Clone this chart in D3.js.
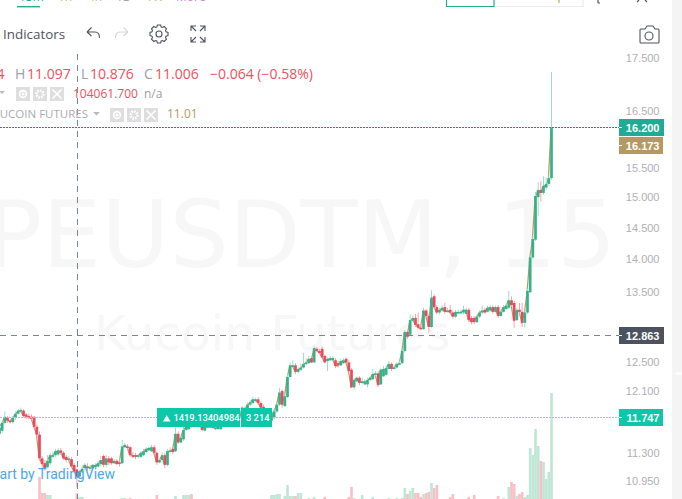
<!DOCTYPE html>
<html>
<head>
<meta charset="utf-8">
<script src="https://cdn.jsdelivr.net/npm/d3@7/dist/d3.min.js"></script>
<style>
html,body{margin:0;padding:0;background:#fff;overflow:hidden}
svg{display:block}
</style>
</head>
<body>
<svg id="chart" width="682" height="499"></svg>
<script>
// Price series: one entry per 15 minute bar
const opens = [
11.54,11.58,11.68,11.75,11.71,11.69,11.75,11.80,11.84,11.84,
11.79,11.77,11.76,11.76,11.63,11.53,11.23,11.17,11.12,11.17,
11.25,11.27,11.28,11.33,11.30,11.25,11.21,11.22,11.15,11.094,
11.006,11.07,11.11,11.13,11.11,11.11,11.12,11.13,11.16,11.26,
11.15,11.23,11.23,11.17,11.20,11.18,11.17,11.37,11.38,11.37,
11.27,11.27,11.25,11.25,11.27,11.31,11.33,11.32,11.37,11.30,
11.18,11.21,11.27,11.15,11.31,11.35,11.32,11.54,11.43,11.47,
11.59,11.60,11.66,11.63,11.66,11.68,11.71,11.58,11.63,11.63,
11.66,11.60,11.60,11.60,11.64,11.67,11.71,11.69,11.71,11.75,
11.76,11.88,11.83,11.86,11.92,11.94,11.97,11.99,11.94,11.89,
11.80,11.80,11.71,11.75,11.83,11.92,12.10,11.90,12.02,12.29,
12.44,12.45,12.36,12.39,12.42,12.47,12.48,12.55,12.49,12.68,
12.65,12.68,12.58,12.51,12.52,12.52,12.52,12.48,12.45,12.48,
12.54,12.49,12.39,12.15,12.23,12.28,12.21,12.19,12.19,12.25,
12.26,12.32,12.34,12.19,12.30,12.32,12.40,12.47,12.41,12.42,
12.47,12.48,12.65,12.92,12.88,13.08,13.12,13.03,12.98,12.96,
13.23,13.15,12.99,13.44,13.28,13.20,13.23,13.28,13.21,13.24,
13.20,13.14,13.20,13.20,13.20,13.18,13.24,13.12,13.12,13.06,
13.14,13.20,13.24,13.21,13.23,13.28,13.21,13.28,13.15,13.21,
13.25,13.27,13.38,13.34,13.09,13.24,13.21,13.05,13.20,13.50,
14.03,14.31,15.00,15.12,15.07,15.16,15.22,15.32];
const highs = [
11.64,11.71,11.83,11.77,11.73,11.77,11.83,11.86,11.88,11.86,
11.81,11.80,11.79,11.77,11.66,11.57,11.26,11.21,11.27,11.30,
11.31,11.35,11.36,11.36,11.32,11.27,11.26,11.25,11.17,11.097,
11.09,11.15,11.17,11.17,11.15,11.16,11.17,11.20,11.26,11.28,
11.27,11.26,11.25,11.22,11.22,11.22,11.46,11.43,11.41,11.38,
11.31,11.30,11.28,11.32,11.35,11.37,11.38,11.40,11.40,11.32,
11.23,11.31,11.30,11.35,11.37,11.37,11.62,11.57,11.51,11.63,
11.67,11.67,11.68,11.69,11.72,11.73,11.73,11.66,11.67,11.67,
11.68,11.64,11.66,11.68,11.73,11.73,11.73,11.75,11.77,11.80,
11.84,11.90,11.89,11.95,11.98,12.02,12.01,12.02,11.97,11.92,
11.84,11.85,11.83,11.85,11.94,12.14,12.12,12.06,12.32,12.49,
12.52,12.48,12.42,12.47,12.62,12.55,12.58,12.58,12.72,12.71,
12.68,12.71,12.60,12.56,12.58,12.58,12.55,12.51,12.54,12.55,
12.56,12.52,12.41,12.28,12.30,12.30,12.28,12.26,12.28,12.30,
12.40,12.37,12.37,12.41,12.44,12.45,12.51,12.49,12.45,12.49,
12.51,12.68,12.95,12.95,13.17,13.15,13.18,13.20,13.02,13.27,
13.25,13.18,13.53,13.47,13.31,13.27,13.31,13.34,13.27,13.31,
13.23,13.24,13.24,13.24,13.30,13.27,13.27,13.15,13.15,13.17,
13.23,13.30,13.27,13.30,13.31,13.31,13.30,13.31,13.24,13.31,
13.34,13.52,13.44,13.37,13.27,13.34,13.34,13.23,13.55,14.08,
14.37,15.09,15.25,15.27,15.35,15.33,15.37,17.23];
const lows = [
11.51,11.55,11.66,11.68,11.67,11.67,11.72,11.79,11.83,11.75,
11.73,11.73,11.72,11.59,11.46,11.20,11.11,11.08,11.11,11.15,
11.23,11.25,11.26,11.27,11.21,11.18,11.18,11.11,11.05,10.876,
11.00,11.06,11.08,11.08,11.08,11.10,11.11,11.12,11.13,11.12,
11.12,11.15,11.15,11.16,11.15,11.13,11.16,11.36,11.33,11.25,
11.23,11.22,11.23,11.23,11.26,11.30,11.32,11.31,11.27,11.15,
11.17,11.18,11.11,11.13,11.30,11.28,11.31,11.41,11.42,11.45,
11.58,11.59,11.62,11.62,11.64,11.67,11.57,11.57,11.62,11.62,
11.60,11.59,11.59,11.59,11.63,11.66,11.68,11.68,11.69,11.73,
11.75,11.81,11.81,11.85,11.90,11.93,11.95,11.92,11.85,11.77,
11.79,11.79,11.69,11.73,11.81,11.90,11.88,11.89,12.01,12.28,
12.42,12.33,12.34,12.37,12.41,12.45,12.47,12.48,12.48,12.63,
12.60,12.55,12.48,12.37,12.51,12.51,12.41,12.42,12.44,12.47,
12.47,12.36,12.14,12.12,12.22,12.18,12.19,12.18,12.15,12.23,
12.25,12.30,12.15,12.18,12.29,12.30,12.39,12.37,12.40,12.41,
12.45,12.47,12.63,12.82,12.86,13.06,12.99,12.96,12.95,12.95,
13.12,12.91,12.98,13.25,13.17,13.17,13.21,13.18,13.20,13.17,
13.11,13.12,13.18,13.18,13.17,13.17,13.06,13.03,13.03,13.05,
13.12,13.18,13.18,13.20,13.21,13.18,13.20,13.12,13.14,13.20,
13.24,13.25,13.28,12.98,13.08,13.18,12.99,12.98,13.18,13.49,
14.01,14.29,14.69,14.93,15.04,15.12,15.19,15.29];
const closes = [
11.62,11.68,11.76,11.71,11.69,11.75,11.80,11.84,11.85,11.77,
11.76,11.76,11.75,11.63,11.53,11.23,11.16,11.11,11.20,11.27,
11.27,11.32,11.33,11.30,11.23,11.21,11.23,11.13,11.07,11.006,
11.07,11.10,11.15,11.11,11.12,11.15,11.15,11.17,11.21,11.15,
11.23,11.18,11.17,11.20,11.16,11.16,11.38,11.40,11.36,11.27,
11.26,11.25,11.27,11.30,11.32,11.35,11.36,11.37,11.30,11.18,
11.21,11.27,11.15,11.32,11.33,11.31,11.54,11.43,11.49,11.59,
11.63,11.63,11.63,11.67,11.69,11.71,11.59,11.63,11.64,11.64,
11.62,11.62,11.63,11.66,11.71,11.71,11.69,11.72,11.75,11.77,
11.81,11.83,11.86,11.92,11.95,11.99,11.99,11.94,11.88,11.80,
11.81,11.83,11.80,11.83,11.92,12.08,11.92,12.03,12.29,12.45,
12.45,12.36,12.40,12.42,12.47,12.49,12.54,12.49,12.69,12.65,
12.62,12.56,12.49,12.54,12.55,12.55,12.44,12.45,12.51,12.52,
12.49,12.37,12.15,12.25,12.28,12.21,12.23,12.23,12.25,12.28,
12.33,12.34,12.18,12.39,12.40,12.41,12.47,12.40,12.42,12.47,
12.48,12.65,12.92,12.85,13.09,13.12,13.02,12.98,12.96,13.23,
13.15,12.99,13.42,13.28,13.20,13.24,13.27,13.21,13.23,13.20,
13.14,13.21,13.21,13.21,13.24,13.24,13.09,13.06,13.06,13.14,
13.20,13.23,13.20,13.27,13.28,13.21,13.28,13.15,13.21,13.28,
13.30,13.38,13.31,13.08,13.24,13.21,13.05,13.20,13.52,14.03,
14.32,15.02,15.12,15.07,15.19,15.22,15.32,16.200];
// Volume per bar, in thousands of contracts
const volumes = [
15,20,12,18,14,10,16,22,25,13,
11,9,14,18,24,312,104,104,78,78,
20,14,16,12,18,11,15,21,24,104.0617,
52,52,20,12,9,15,18,11,14,22,
17,13,10,16,12,9,39,39,18,39,
20,12,14,11,16,18,13,10,24,78,
16,12,22,24,18,11,65,20,13,78,
78,78,91,15,12,21,16,9,18,14,
20,16,11,23,13,17,10,19,14,22,
12,15,24,18,10,16,13,21,11,17,
14,20,78,78,91,91,12,65,208,65,
65,65,104,104,22,16,39,14,52,18,
12,20,52,15,11,23,17,9,19,14,
21,52,182,39,16,12,78,24,13,18,
52,17,10,22,15,12,39,20,14,39,
18,39,169,91,130,169,104,104,52,91,
104,117,234,169,208,14,22,11,17,52,
91,13,20,16,10,24,52,18,78,12,
15,21,13,19,23,10,17,65,14,39,
20,182,247,221,65,91,117,52,78,689,
598,936,715,520,507,286,377,1404];
// Comparison symbol drawn as a line behind the candles
const kucoinCloses = [
11.63,11.67,11.75,11.72,11.70,11.74,11.79,11.83,11.84,11.78,
11.77,11.75,11.74,11.64,11.54,11.25,11.17,11.12,11.19,11.26,
11.26,11.31,11.32,11.31,11.24,11.22,11.22,11.14,11.08,11.01,
11.06,11.09,11.14,11.12,11.12,11.14,11.14,11.16,11.20,11.16,
11.22,11.19,11.18,11.19,11.17,11.17,11.36,11.39,11.37,11.28,
11.27,11.26,11.26,11.29,11.31,11.34,11.35,11.36,11.31,11.19,
11.20,11.26,11.16,11.31,11.32,11.32,11.52,11.44,11.48,11.58,
11.62,11.62,11.64,11.66,11.68,11.70,11.60,11.62,11.63,11.63,
11.63,11.61,11.62,11.65,11.70,11.70,11.70,11.71,11.74,11.76,
11.80,11.84,11.85,11.91,11.94,11.98,11.98,11.95,11.89,11.81,
11.80,11.82,11.79,11.82,11.91,12.07,11.93,12.02,12.27,12.44,
12.44,12.37,12.39,12.41,12.46,12.48,12.53,12.50,12.67,12.66,
12.63,12.57,12.50,12.53,12.54,12.54,12.45,12.44,12.50,12.51,
12.50,12.38,12.16,12.24,12.27,12.22,12.22,12.22,12.24,12.27,
12.32,12.33,12.19,12.38,12.39,12.40,12.46,12.41,12.41,12.46,
12.47,12.63,12.90,12.86,13.07,13.11,13.03,12.99,12.97,13.21,
13.16,13.00,13.40,13.29,13.21,13.23,13.26,13.22,13.22,13.21,
13.15,13.20,13.20,13.20,13.23,13.23,13.10,13.07,13.07,13.13,
13.19,13.22,13.21,13.26,13.27,13.22,13.27,13.16,13.20,13.27,
13.29,13.37,13.32,13.09,13.23,13.22,13.06,13.19,13.50,14.01,
14.30,14.99,15.10,15.08,15.17,15.20,15.30,16.173];
const priceTicks = [17.5,16.5,15.5,15,14.5,14,13.5,12.5,12.1,11.3,10.95];
// Values pinned on the price scale
const lastPrice = 16.2, lastKucoin = 16.173, cursorPrice = 12.863, orderPrice = 11.747;
const orderLabel = "1419.13404984", orderQty = "3 214";

const UP = "#36b28a", DOWN = "#ec4a5c", UP_WICK = "#a3dcc6", DOWN_WICK = "#f5a5ae";
const VOL_UP = "#c0e6d5", VOL_DOWN = "#f8c1c5", TAN = "#b49a62";
const uiFont = "'Open Sans', sans-serif", axisFont = "'Liberation Sans', Arial, sans-serif";

const svg = d3.select("#chart");
const x = d3.scaleLinear().domain([0, closes.length - 1]).range([-0.5, 551.5]);
const y = d3.scaleLog().domain([10.95, 17.5]).range([481.2, 58]);
const yVol = d3.scaleLinear().domain([0, d3.max(volumes)]).range([501, 393]);
const bars = d3.range(closes.length);
const snapped = v => Math.floor(v) + 0.5;

// Symbol watermark
const wm = svg.append("g").attr("fill", "#f7f7f7").attr("font-family", "'DejaVu Sans', sans-serif");
wm.append("text").attr("x", 616).attr("y", 267).attr("text-anchor", "end")
  .attr("font-size", 93.3).text("APEUSDTM, 15");
wm.append("text").attr("x", 94).attr("y", 350).attr("font-size", 48.6).text("Kucoin Futures");

// Volume pane, drawn beneath the price candles
svg.append("g").selectAll("rect").data(bars).join("rect")
  .attr("x", i => x(i) - 1.33).attr("width", 2.67)
  .attr("y", i => yVol(volumes[i])).attr("height", i => 501 - yVol(volumes[i]))
  .attr("fill", i => closes[i] >= opens[i] ? VOL_UP : VOL_DOWN);

// Comparison line
svg.append("path").datum(kucoinCloses)
  .attr("fill", "none").attr("stroke", TAN).attr("stroke-width", 1.2)
  .attr("d", d3.line().x((d, i) => x(i) - 0.5).y(d => y(d)));

// Candles
const candles = svg.append("g");
candles.selectAll("line").data(bars).join("line")
  .attr("x1", i => x(i)).attr("x2", i => x(i))
  .attr("y1", i => y(highs[i])).attr("y2", i => y(lows[i]))
  .attr("stroke", i => closes[i] >= opens[i] ? UP_WICK : DOWN_WICK).attr("stroke-width", 1);
candles.selectAll("rect").data(bars).join("rect")
  .attr("x", i => x(i) - 1.35).attr("width", 2.7)
  .attr("y", i => Math.min(y(opens[i]), y(closes[i])))
  .attr("height", i => Math.max(1.6, Math.abs(y(opens[i]) - y(closes[i]))))
  .attr("fill", i => closes[i] >= opens[i] ? UP : DOWN);

// Horizontal price lines
const hline = (price, stroke, dash) => svg.append("line")
  .attr("x1", 0).attr("x2", 619).attr("y1", snapped(y(price))).attr("y2", snapped(y(price)))
  .attr("stroke", stroke).attr("stroke-dasharray", dash);
hline(lastPrice, "#1d8f7c", "2 1");
hline(orderPrice, "#7fdcca", "2 1");
hline(cursorPrice, "#758696", "6 5");

// Crosshair vertical
svg.append("line").attr("x1", 77.5).attr("x2", 77.5).attr("y1", 54).attr("y2", 499)
  .attr("stroke", "#758696").attr("stroke-dasharray", "6 5");

// Order label on the chart
const ORDER = "#0cc8a8";
const orderY = y(orderPrice);
svg.append("rect").attr("x", 157).attr("y", 408).attr("width", 83).attr("height", 19).attr("fill", ORDER);
svg.append("rect").attr("x", 241).attr("y", 408).attr("width", 31).attr("height", 19).attr("fill", ORDER);
svg.append("path").attr("d", "M163 421.5h7.5l-3.75-6.5z").attr("fill", "#fff");
svg.append("g").attr("font-family", "Roboto, sans-serif").attr("font-size", 9.3).attr("font-weight", 500).attr("fill", "#fff")
  .call(g => g.append("text").attr("x", 173.5).attr("y", orderY + 3.5).text(orderLabel))
  .call(g => g.append("text").attr("x", 246).attr("y", orderY + 3.5).text(orderQty));

// Price axis
const axis = d3.axisRight(y).tickValues(priceTicks).tickSize(0).tickFormat(d3.format(".3f"));
const axisG = svg.append("g").attr("transform", "translate(659.5,0)").call(axis);
axisG.select(".domain").remove();
axisG.selectAll("text").attr("x", 0).attr("text-anchor", "end")
  .attr("font-family", axisFont).attr("font-size", 11).attr("fill", "#aeb0b6");

// Value tags on the price axis; tags that would collide are stacked downwards
const tag = (price, fill, w, shift) => {
  const py = Math.floor(y(price) + (shift || 0));
  svg.append("rect").attr("x", 619).attr("y", py - 8).attr("width", w).attr("height", 17).attr("fill", fill);
  svg.append("rect").attr("x", 619).attr("y", py).attr("width", 3).attr("height", 1).attr("fill", "#fff");
  svg.append("text").attr("x", 659.5).attr("y", py + 4.5).attr("text-anchor", "end")
    .attr("font-family", axisFont).attr("font-size", 11).attr("font-weight", 700).attr("fill", "#fff")
    .text(d3.format(".3f")(price));
};
tag(lastPrice, "#22ab94", 45);
tag(lastKucoin, TAN, 44, 16);
tag(cursorPrice, "#4c525e", 45);
tag(orderPrice, ORDER, 44);

// Legend rows
const legend = svg.append("g").attr("font-family", uiFont);
const row = (xPos, yPos, size, fill, str, anchor) => legend.append("text")
  .attr("x", xPos).attr("y", yPos).attr("font-size", size).attr("fill", fill)
  .attr("text-anchor", anchor || "start").text(str);
const RED = "#ef5060", GRAY = "#9a9ea6";
row(4.5, 79, 14, RED, "11.094", "end");
row(15, 79, 14, GRAY, "H");
row(27, 79, 14, RED, "11.097");
row(81, 79, 14, GRAY, "L");
row(90, 79, 14, RED, "10.876");
row(144, 79, 14, GRAY, "C");
row(155, 79, 14, RED, "11.006");
row(210, 79, 14, RED, "\u22120.064 (\u22120.58%)");
row(73, 98, 12, RED, "104061.700");
row(144, 98, 12, GRAY, "n/a");
row(88, 118, 11.5, "#a8abb2", "KUCOIN FUTURES", "end");
row(167, 118, 12, TAN, "11.01");

// Small grey show / settings / close buttons beside the legend
const buttons = legend.append("g").attr("fill", "#dedede");
[[16, 87], [33, 87], [50, 87], [110, 108], [127, 108], [144, 108]].forEach(([bx, by], k) => {
  buttons.append("rect").attr("x", bx).attr("y", by).attr("width", 14).attr("height", 14);
  const g = legend.append("g").attr("transform", `translate(${bx + 7},${by + 7})`)
    .attr("fill", "none").attr("stroke", "#fff").attr("stroke-width", 1.6);
  if (k % 3 === 0) { g.append("circle").attr("r", 3.4); g.append("circle").attr("r", 0.8).attr("fill", "#fff"); }
  if (k % 3 === 1) { g.append("circle").attr("r", 3.4).attr("stroke-width", 2.6).attr("stroke-dasharray", "1.6 1"); }
  if (k % 3 === 2) { g.append("path").attr("d", "M-4.5-4.5L4.5 4.5M4.5-4.5L-4.5 4.5"); }
});
legend.append("path").attr("d", "M-1 91h6l-3 3z M93 112h7l-3.5 3.5z").attr("fill", "#b8bbc2");

// Toolbar
const tb = svg.append("g");
tb.append("text").attr("x", 3).attr("y", 39).attr("font-family", uiFont).attr("font-size", 13.4).attr("fill", "#50535e").text("Indicators");
tb.append("path").attr("d", "M87 32l4.5-4.5M87 32l4.5 4M87 32h8q4.5 0 4.5 6").attr("fill", "none").attr("stroke", "#50535e").attr("stroke-width", 1.1);
tb.append("path").attr("d", "M128 32l-4.5-4.5M128 32l-4.5 4M128 32h-8q-4.5 0-4.5 6").attr("fill", "none").attr("stroke", "#d4d6da").attr("stroke-width", 1.1);
const gear = tb.append("g").attr("transform", "translate(159,34)").attr("fill", "none").attr("stroke", "#50535e").attr("stroke-width", 1.1);
gear.append("circle").attr("r", 3);
gear.append("path").attr("d", d3.range(8).map(k => {
  const ang = a => [(a[0] * Math.cos(k * Math.PI / 4) - a[1] * Math.sin(k * Math.PI / 4)).toFixed(2), (a[0] * Math.sin(k * Math.PI / 4) + a[1] * Math.cos(k * Math.PI / 4)).toFixed(2)].join(" ");
  return (k ? "L" : "M") + ang([-2.2, -7]) + "L" + ang([-1.6, -9]) + "L" + ang([1.6, -9]) + "L" + ang([2.2, -7]);
}).join("") + "Z");
tb.append("path").attr("d", "M191 31v-5h5M205 31v-5h-5M191 37v5h5M205 37v5h-5M191.5 26.5l4.5 4.5M204.5 26.5l-4.5 4.5M191.5 41.5l4.5-4.5M204.5 41.5l-4.5-4.5")
  .attr("fill", "none").attr("stroke", "#50535e").attr("stroke-width", 1.1);
// Camera button
tb.append("path").attr("d", "M641 29h4l2-3h6l2 3h3q1 0 1 1v12q0 1-1 1h-17q-1 0-1-1v-12q0-1 1-1z").attr("fill", "none").attr("stroke", "#50535e").attr("stroke-width", 1.1);
tb.append("circle").attr("cx", 649).attr("cy", 36).attr("r", 4).attr("fill", "none").attr("stroke", "#50535e").attr("stroke-width", 1.1);

// Interval tabs, running off the top edge
const tabs = [["15m", 19, "#22ab94"], ["1h", 58, "#d8b26a"], ["4h", 88, "#d8b26a"], ["1D", 116, "#a0a4ac"], ["1W", 146, "#d8b26a"], ["More", 176, "#c58ad0"]];
tabs.forEach(([t, tx, c]) => tb.append("text").attr("x", tx).attr("y", 1).attr("font-family", uiFont).attr("font-size", 12).attr("fill", c).text(t));
tb.append("rect").attr("x", 17).attr("y", 6).attr("width", 23).attr("height", 1.4).attr("fill", "#22ab94");

// Top right switch and icons
tb.append("path").attr("d", "M494 6.5H583V0").attr("fill", "none").attr("stroke", "#ececec").attr("stroke-width", 1.2);
tb.append("path").attr("d", "M446.5 0V6.5H494V0").attr("fill", "none").attr("stroke", "#22ab94").attr("stroke-width", 1.2);
tb.append("rect").attr("x", 558).attr("y", 0).attr("width", 2).attr("height", 3).attr("fill", "#e8c58a");
tb.append("path").attr("d", "M600 3l-2 0M598 0v3").attr("fill", "none").attr("stroke", "#50535e").attr("stroke-width", 1.2);
tb.append("path").attr("d", "M637 2l2-2M647 2l-2-2").attr("fill", "none").attr("stroke", "#50535e").attr("stroke-width", 1.2);

// Scroll strip on the right edge
svg.append("rect").attr("x", 672).attr("y", 0).attr("width", 10).attr("height", 499).attr("fill", "#f4f4f4");
svg.append("rect").attr("x", 676).attr("y", 372).attr("width", 6).attr("height", 3).attr("fill", "#fbfbfb");

// Attribution link
svg.append("text").attr("x", 115).attr("y", 479).attr("text-anchor", "end")
  .attr("font-family", "Roboto, sans-serif").attr("font-size", 14).attr("fill", "#4aa8f0").text("Chart by TradingView");
</script>
</body>
</html>
